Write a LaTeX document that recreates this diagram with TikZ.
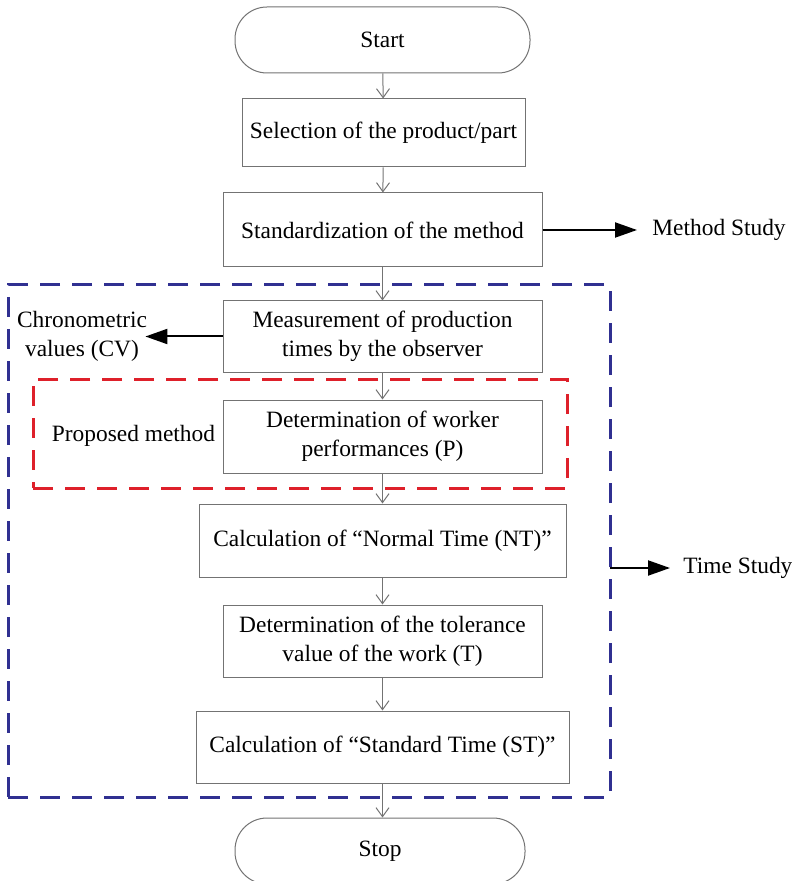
\documentclass[tikz,border=0pt]{standalone}
\usepackage{fontspec}
\setmainfont{Liberation Serif}
\usepackage{tikz}
\usetikzlibrary{arrows.meta, positioning}
\definecolor{tsblue}{RGB}{48,48,145}
\definecolor{pmred}{RGB}{222,32,42}
\colorlet{boxline}{black!55}
\newcommand{\flowfont}{\fontsize{11.7}{14.5}\selectfont}

\begin{document}
\begin{tikzpicture}[x=0.5pt, y=-0.5pt,
  proc/.style={draw=boxline, line width=0.5pt, fill=white, align=center, inner sep=0pt, font=\flowfont},
  term/.style={proc, rounded corners=16pt},
  lbl/.style={align=center, inner sep=0pt, font=\flowfont},
  flow/.style={-{Straight Barb[length=4.5pt, width=6.5pt]}, draw=boxline, line width=0.5pt},
  side/.style={-{Triangle[length=11pt, width=7.5pt]}, line width=1pt},
  frame/.style={draw, line width=1.5pt, dash pattern=on 10pt off 6pt, inner sep=0pt}]
  \useasboundingbox (0,0) rectangle (791,881);
  % dashed groups
  \node[frame, draw=tsblue, minimum width=301pt, minimum height=256pt] (tsbox) at (309,541) {};
  \node[frame, draw=pmred, minimum width=267pt, minimum height=54.5pt] (pmbox) at (300,433.5) {};
  % main flow
  \node[term, minimum width=147.5pt, minimum height=33pt] (start) at (382.5,40) {Start};
  \node[proc, minimum width=141.5pt, minimum height=34pt] (sel) at (383.5,133) {Selection of the product/part};
  \node[proc, minimum width=159.5pt, minimum height=37pt] (std) at (382.5,230) {Standardization of the method};
  \node[proc, minimum width=159.5pt, minimum height=35.5pt] (meas) at (382.5,336.5) {Measurement of production\\times by the observer};
  \node[proc, minimum width=159.5pt, minimum height=36.5pt] (perf) at (382.5,436.5) {Determination of worker\\performances (P)};
  \node[proc, minimum width=183.5pt, minimum height=36.5pt] (nt) at (382.5,540.5) {Calculation of ``Normal Time (NT)''};
  \node[proc, minimum width=159.5pt, minimum height=36pt] (tol) at (382.5,641) {Determination of the tolerance\\value of the work (T)};
  \node[proc, minimum width=186.5pt, minimum height=36pt] (st) at (382.5,747) {Calculation of ``Standard Time (ST)''};
  \node[term, minimum width=145pt, minimum height=33pt] (stop) at (380,851) {Stop};
  \draw[flow] (start) -- (sel);
  \draw[flow] (sel) -- (std);
  \draw[flow] (std) -- (meas);
  \draw[flow] (meas) -- (perf);
  \draw[flow] (perf) -- (nt);
  \draw[flow] (nt) -- (tol);
  \draw[flow] (tol) -- (st);
  \draw[flow] (st.south) -- (stop.north -| st.south);
  % side labels
  \node[lbl, anchor=west] (ms) at (652,230) {Method Study};
  \draw[side] (std.east) -- ([xshift=-7.5pt]ms.west);
  \node[lbl] (cv) at (82,336.5) {Chronometric\\values (CV)};
  \draw[side] (meas.west) -- ([xshift=-1pt]cv.east);
  \node[lbl] (pm) at (133.5,436) {Proposed method};
  \coordinate (ts0) at (610,568);
  \node[lbl, anchor=west] (ts) at (683,568) {Time Study};
  \draw[side] (ts0) -- ([xshift=-6.5pt]ts.west);
\end{tikzpicture}
\end{document}
